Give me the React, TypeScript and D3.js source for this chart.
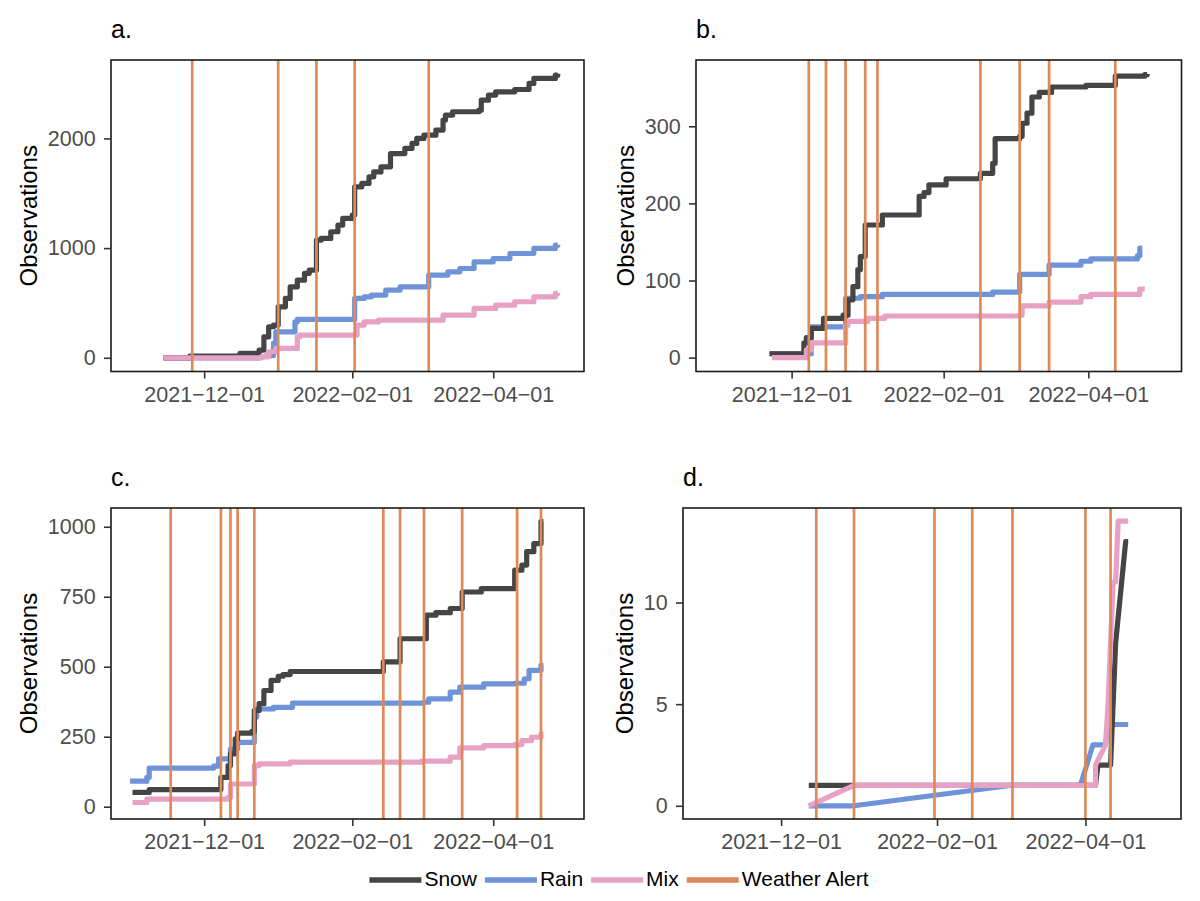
import { useEffect, useRef } from "react";
import * as d3 from "d3";

type Pt = [string, number];

// ---- data (cumulative observations by date) ----
const snowA: Pt[] = [
  ["2021-11-14", 0], ["2021-11-25", 15], ["2021-12-16", 40], ["2021-12-24", 70], ["2021-12-26", 191],
  ["2021-12-28", 283], ["2021-12-30", 298], ["2022-01-01", 465], ["2022-01-04", 541], ["2022-01-06", 647],
  ["2022-01-09", 708], ["2022-01-12", 770], ["2022-01-14", 800], ["2022-01-17", 1073], ["2022-01-19", 1088],
  ["2022-01-23", 1149], ["2022-01-26", 1210], ["2022-01-28", 1271], ["2022-02-01", 1301], ["2022-02-02", 1559],
  ["2022-02-05", 1590], ["2022-02-08", 1650], ["2022-02-10", 1695], ["2022-02-13", 1741], ["2022-02-17", 1862],
  ["2022-02-23", 1909], ["2022-02-26", 1954], ["2022-02-28", 2000], ["2022-03-03", 2030], ["2022-03-08", 2076],
  ["2022-03-11", 2167], ["2022-03-12", 2213], ["2022-03-15", 2243], ["2022-03-26", 2258], ["2022-03-27", 2349],
  ["2022-03-30", 2395], ["2022-04-02", 2425], ["2022-04-10", 2446], ["2022-04-16", 2501], ["2022-04-18", 2547],
  ["2022-04-27", 2577], ["2022-04-28", 2590],
];
const rainA: Pt[] = [
  ["2021-11-14", 0], ["2021-12-24", 10], ["2021-12-27", 20], ["2021-12-30", 131], ["2021-12-31", 237],
  ["2022-01-08", 328], ["2022-01-09", 350], ["2022-02-02", 541], ["2022-02-06", 556], ["2022-02-09", 572],
  ["2022-02-15", 617], ["2022-02-21", 647], ["2022-03-05", 754], ["2022-03-13", 784], ["2022-03-18", 814],
  ["2022-03-24", 875], ["2022-04-01", 905], ["2022-04-08", 951], ["2022-04-18", 997], ["2022-04-27", 1027],
  ["2022-04-28", 1030],
];
const mixA: Pt[] = [
  ["2021-11-14", 0], ["2021-12-25", 10], ["2021-12-28", 55], ["2021-12-31", 85], ["2022-01-09", 191],
  ["2022-01-10", 207], ["2022-02-03", 298], ["2022-02-06", 328], ["2022-02-12", 343], ["2022-03-11", 389],
  ["2022-03-24", 450], ["2022-04-02", 480], ["2022-04-10", 511], ["2022-04-18", 556], ["2022-04-27", 587],
  ["2022-04-28", 590],
];
const alertsA = ["2021-11-26", "2022-01-01", "2022-01-17", "2022-02-02", "2022-03-05"];

const snowB: Pt[] = [
  ["2021-11-22", 5], ["2021-12-05", 5], ["2021-12-06", 19], ["2021-12-07", 26], ["2021-12-09", 38],
  ["2021-12-14", 51], ["2021-12-22", 55], ["2021-12-24", 75], ["2021-12-26", 92], ["2021-12-28", 114],
  ["2021-12-29", 131], ["2021-12-31", 172], ["2022-01-07", 185], ["2022-01-22", 209], ["2022-01-24", 214],
  ["2022-01-26", 224], ["2022-02-02", 232], ["2022-02-16", 239], ["2022-02-21", 252], ["2022-02-22", 284],
  ["2022-03-04", 287], ["2022-03-05", 304], ["2022-03-07", 317], ["2022-03-09", 338], ["2022-03-12", 344],
  ["2022-03-17", 351], ["2022-03-31", 353], ["2022-04-12", 365], ["2022-04-24", 367], ["2022-04-25", 368],
];
const rainB: Pt[] = [
  ["2021-11-22", 5], ["2021-12-06", 5], ["2021-12-09", 40], ["2021-12-23", 77], ["2021-12-29", 79],
  ["2022-01-07", 82], ["2022-02-21", 85], ["2022-03-04", 108], ["2022-03-16", 120], ["2022-03-29", 125],
  ["2022-04-02", 128], ["2022-04-21", 132], ["2022-04-22", 142], ["2022-04-23", 142],
];
const mixB: Pt[] = [
  ["2021-11-23", 0], ["2021-12-07", 10], ["2021-12-09", 19], ["2021-12-23", 42], ["2021-12-24", 47],
  ["2022-01-01", 51], ["2022-01-08", 54], ["2022-03-04", 55], ["2022-03-05", 67], ["2022-03-16", 72],
  ["2022-03-29", 79], ["2022-04-02", 82], ["2022-04-22", 89], ["2022-04-24", 89],
];
const alertsB = [
  "2021-12-08", "2021-12-15", "2021-12-23", "2021-12-31", "2022-01-05",
  "2022-02-16", "2022-03-04", "2022-03-16", "2022-04-12",
];

const snowC: Pt[] = [
  ["2021-11-01", 51], ["2021-11-08", 61], ["2021-12-08", 105], ["2021-12-11", 147], ["2021-12-12", 189],
  ["2021-12-14", 242], ["2021-12-15", 263], ["2021-12-21", 269], ["2021-12-22", 344], ["2021-12-24", 368],
  ["2021-12-26", 415], ["2021-12-29", 451], ["2022-01-01", 466], ["2022-01-03", 472], ["2022-01-06", 483],
  ["2022-02-14", 517], ["2022-02-21", 600], ["2022-03-04", 684], ["2022-03-08", 693], ["2022-03-14", 708],
  ["2022-03-19", 767], ["2022-03-27", 779], ["2022-04-10", 845], ["2022-04-13", 863], ["2022-04-15", 911],
  ["2022-04-18", 940], ["2022-04-21", 1018], ["2022-04-22", 1018],
];
const rainC: Pt[] = [
  ["2021-10-31", 91], ["2021-11-07", 105], ["2021-11-08", 138], ["2021-12-05", 145], ["2021-12-07", 171],
  ["2021-12-12", 206], ["2021-12-15", 230], ["2021-12-22", 320], ["2021-12-23", 349], ["2021-12-30", 355],
  ["2022-01-07", 370], ["2022-03-03", 373], ["2022-03-05", 385], ["2022-03-14", 409], ["2022-03-18", 427],
  ["2022-03-28", 439], ["2022-04-10", 441], ["2022-04-14", 457], ["2022-04-16", 487], ["2022-04-21", 505],
  ["2022-04-22", 505],
];
const mixC: Pt[] = [
  ["2021-11-01", 15], ["2021-11-07", 27], ["2021-12-11", 33], ["2021-12-12", 81], ["2021-12-22", 147],
  ["2021-12-24", 153], ["2022-01-06", 159], ["2022-03-02", 163], ["2022-03-14", 177], ["2022-03-18", 210],
  ["2022-03-28", 218], ["2022-04-10", 222], ["2022-04-13", 236], ["2022-04-17", 248], ["2022-04-21", 260],
  ["2022-04-22", 260],
];
const alertsC = [
  "2021-11-17", "2021-12-08", "2021-12-12", "2021-12-15", "2021-12-22", "2022-02-14",
  "2022-02-21", "2022-03-03", "2022-03-19", "2022-04-11", "2022-04-21",
];

const snowD: Pt[] = [
  ["2021-12-12", 1], ["2022-04-05", 1], ["2022-04-06", 2], ["2022-04-11", 2], ["2022-04-12", 5],
  ["2022-04-13", 8], ["2022-04-17", 13], ["2022-04-18", 13],
];
const rainD: Pt[] = [
  ["2021-12-12", 0], ["2021-12-30", 0], ["2022-03-02", 1], ["2022-03-30", 1], ["2022-04-04", 3],
  ["2022-04-09", 3], ["2022-04-10", 4], ["2022-04-18", 4],
];
const mixD: Pt[] = [
  ["2021-12-12", 0], ["2021-12-30", 1], ["2022-04-05", 1], ["2022-04-05", 2], ["2022-04-09", 3],
  ["2022-04-10", 5], ["2022-04-11", 8], ["2022-04-12", 11], ["2022-04-13", 11], ["2022-04-14", 14],
  ["2022-04-18", 14],
];
const alertsD = [
  "2021-12-15", "2021-12-30", "2022-01-31", "2022-02-15", "2022-03-03", "2022-04-01", "2022-04-11",
];

const X_DOMAIN = ["2021-10-23", "2022-05-09"];
const X_TICKS = ["2021-12-01", "2022-02-01", "2022-04-01"];
const LEGEND = ["Snow", "Rain", "Mix", "Weather Alert"];

// ---- styling ----
const COLORS: Record<string, string> = {
  Snow: "#454545",
  Rain: "#6E93D8",
  Mix: "#E7A1C5",
  "Weather Alert": "#E08958",
};
const FONT = "'Liberation Sans', Arial, Helvetica, sans-serif";

const PANELS = [
  { label: "a.", box: { l: 111, r: 584, t: 60, b: 371.5 }, yDomain: [-125, 2715], yTicks: [0, 1000, 2000], snow: snowA, rain: rainA, mix: mixA, alerts: alertsA, step: true },
  { label: "b.", box: { l: 696, r: 1181.5, t: 60, b: 371.5 }, yDomain: [-18, 386], yTicks: [0, 100, 200, 300], snow: snowB, rain: rainB, mix: mixB, alerts: alertsB, step: true },
  { label: "c.", box: { l: 111, r: 584, t: 508, b: 819 }, yDomain: [-44, 1067], yTicks: [0, 250, 500, 750, 1000], snow: snowC, rain: rainC, mix: mixC, alerts: alertsC, step: true },
  { label: "d.", box: { l: 683, r: 1181, t: 508, b: 819 }, yDomain: [-0.65, 14.65], yTicks: [0, 5, 10], snow: snowD, rain: rainD, mix: mixD, alerts: alertsD, step: false },
];

const parse = d3.timeParse("%Y-%m-%d");
const fmt = d3.timeFormat("%Y-%m-%d");

export default function App() {
  const svgRef = useRef<SVGSVGElement>(null);

  useEffect(() => {
    if (!svgRef.current) return;
    const svg = d3.select(svgRef.current);
    svg.selectAll("*").remove();

    PANELS.forEach((p, i) => {
      const { l, r, t, b } = p.box;
      const x = d3.scaleTime().domain(X_DOMAIN.map((s) => parse(s) as Date)).range([l, r]);
      const y = d3.scaleLinear().domain(p.yDomain).range([b, t]);
      const g = svg.append("g");

      const clipId = `clip-${i}`;
      g.append("clipPath").attr("id", clipId)
        .append("rect").attr("x", l).attr("y", t).attr("width", r - l).attr("height", b - t);

      const plot = g.append("g").attr("clip-path", `url(#${clipId})`);
      const line = d3.line<Pt>()
        .x((d) => x(parse(d[0]) as Date))
        .y((d) => y(d[1]))
        .curve(p.step ? d3.curveStepAfter : d3.curveLinear);

      // draw order: rain, snow, mix
      const series: [string, Pt[]][] = [["Rain", p.rain], ["Snow", p.snow], ["Mix", p.mix]];
      series.forEach(([name, data]) => {
        plot.append("path")
          .attr("d", line(data) as string)
          .attr("fill", "none")
          .attr("stroke", COLORS[name])
          .attr("stroke-width", 5.2)
          .attr("stroke-linejoin", "round");
      });

      plot.selectAll(".alert")
        .data(p.alerts)
        .enter()
        .append("line")
        .attr("x1", (d) => x(parse(d) as Date))
        .attr("x2", (d) => x(parse(d) as Date))
        .attr("y1", t)
        .attr("y2", b)
        .attr("stroke", COLORS["Weather Alert"])
        .attr("stroke-width", 2.7);

      // panel border
      g.append("rect")
        .attr("x", l).attr("y", t).attr("width", r - l).attr("height", b - t)
        .attr("fill", "none").attr("stroke", "#1a1a1a").attr("stroke-width", 1.6);

      // axes
      const yAxis = g.append("g")
        .attr("transform", `translate(${l},0)`)
        .call(d3.axisLeft(y).tickValues(p.yTicks).tickSize(7).tickPadding(8.3).tickFormat(d3.format("d")));
      const xAxis = g.append("g")
        .attr("transform", `translate(0,${b})`)
        .call(
          d3.axisBottom(x)
            .tickValues(X_TICKS.map((s) => parse(s) as Date))
            .tickSize(7)
            .tickPadding(8.2)
            .tickFormat((d) => fmt(d as Date).replace(/-/g, "\u2212"))
        );
      [yAxis, xAxis].forEach((ax) => {
        ax.select(".domain").remove();
        ax.selectAll(".tick line").attr("stroke", "#333333").attr("stroke-width", 1.6);
        ax.selectAll(".tick text")
          .attr("fill", "#4D4D4D")
          .style("font-family", FONT)
          .style("font-size", "21.5px");
      });

      const yb = (yAxis.node() as SVGGElement).getBBox();
      g.append("text")
        .attr("transform", `translate(${l + yb.x - 10.7},${(t + b) / 2}) rotate(-90)`)
        .attr("text-anchor", "middle")
        .style("font-family", FONT)
        .style("font-size", "24px")
        .attr("fill", "#000")
        .text("Observations");

      g.append("text")
        .attr("x", l)
        .attr("y", t - 21.7)
        .style("font-family", FONT)
        .style("font-size", "25px")
        .attr("fill", "#000")
        .text(p.label);
    });

    // legend
    const keyW = 52;
    const keyGap = 3;
    const itemGap = 8;
    const lg = svg.append("g");
    let cursor = 0;
    LEGEND.forEach((name) => {
      const item = lg.append("g").attr("transform", `translate(${cursor},0)`);
      item.append("line")
        .attr("x1", 0).attr("x2", keyW).attr("y1", 880).attr("y2", 880)
        .attr("stroke", COLORS[name]).attr("stroke-width", 5.6);
      const txt = item.append("text")
        .attr("x", keyW + keyGap)
        .attr("y", 885.5)
        .style("font-family", FONT)
        .style("font-size", "21px")
        .attr("fill", "#000")
        .text(name);
      const w = (txt.node() as SVGTextElement).getComputedTextLength();
      cursor += keyW + keyGap + w + itemGap;
    });
    const total = cursor - itemGap;
    lg.attr("transform", `translate(${619 - total / 2},0)`);
  }, []);

  return (
    <svg
      ref={svgRef}
      width={1200}
      height={901}
      style={{ position: "absolute", left: 0, top: 0, background: "#fff" }}
    />
  );
}
